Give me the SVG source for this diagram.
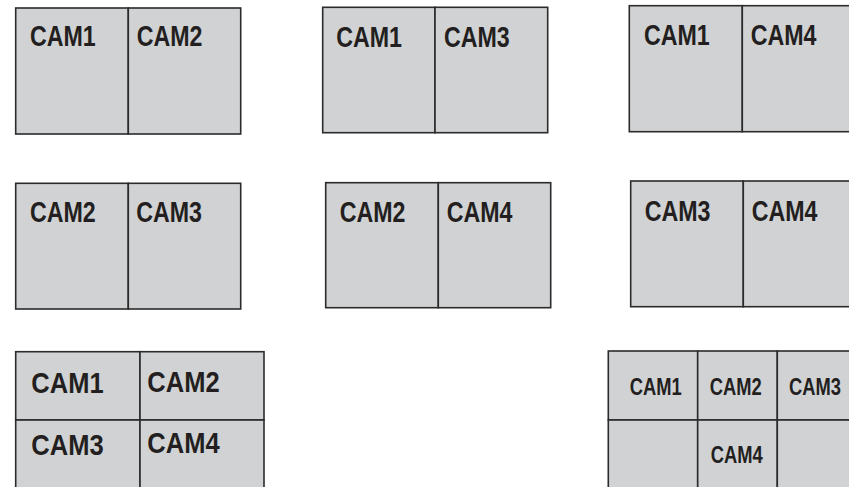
<svg xmlns="http://www.w3.org/2000/svg" width="849" height="487" viewBox="0 0 849 487">
<style>
.cell{fill:#d1d2d4;stroke:#2b2b2b;stroke-width:1.6}
.t{font-family:"Liberation Sans",Arial,sans-serif;font-weight:bold;font-size:29px;fill:#231f20}
.s{font-family:"Liberation Sans",Arial,sans-serif;font-weight:bold;font-size:23.5px;fill:#231f20}
</style>
<rect width="849" height="487" fill="#ffffff"/>
<g id="p1">
<rect class="cell" x="15.7" y="8" width="112.6" height="126"/>
<rect class="cell" x="128.3" y="8" width="112.4" height="126"/>
<text class="t" transform="translate(30,46) scale(0.8,1)">CAM1</text>
<text class="t" transform="translate(136.7,46) scale(0.8,1)">CAM2</text>
</g>
<g id="p2">
<rect class="cell" x="322.7" y="7.3" width="112.3" height="125.4"/>
<rect class="cell" x="435" y="7.3" width="112.7" height="125.4"/>
<text class="t" transform="translate(336.3,46.5) scale(0.8,1)">CAM1</text>
<text class="t" transform="translate(444,46.5) scale(0.8,1)">CAM3</text>
</g>
<g id="p3">
<rect class="cell" x="629.3" y="5.7" width="113" height="126"/>
<rect class="cell" x="742.3" y="5.7" width="113" height="126"/>
<text class="t" transform="translate(644,45) scale(0.8,1)">CAM1</text>
<text class="t" transform="translate(750.7,45) scale(0.8,1)">CAM4</text>
</g>
<g id="p4">
<rect class="cell" x="15.7" y="183.3" width="112.6" height="125.7"/>
<rect class="cell" x="128.3" y="183.3" width="112.4" height="125.7"/>
<text class="t" transform="translate(30,222.3) scale(0.8,1)">CAM2</text>
<text class="t" transform="translate(136.3,222.3) scale(0.8,1)">CAM3</text>
</g>
<g id="p5">
<rect class="cell" x="325.7" y="182.7" width="112.6" height="125"/>
<rect class="cell" x="438.3" y="182.7" width="112.4" height="125"/>
<text class="t" transform="translate(339.7,222.3) scale(0.8,1)">CAM2</text>
<text class="t" transform="translate(446.7,222.3) scale(0.8,1)">CAM4</text>
</g>
<g id="p6">
<rect class="cell" x="630.7" y="181" width="112.6" height="125.7"/>
<rect class="cell" x="743.3" y="181" width="113" height="125.7"/>
<text class="t" transform="translate(644.7,220.7) scale(0.8,1)">CAM3</text>
<text class="t" transform="translate(751.7,220.7) scale(0.8,1)">CAM4</text>
</g>
<g id="p7">
<rect class="cell" x="15.7" y="351.7" width="124.3" height="68.3"/>
<rect class="cell" x="140" y="351.7" width="124" height="68.3"/>
<rect class="cell" x="15.7" y="420" width="124.3" height="70"/>
<rect class="cell" x="140" y="420" width="124" height="70"/>
<text class="t" transform="translate(31.3,393.3) scale(0.88,1)">CAM1</text>
<text class="t" transform="translate(147.3,392.3) scale(0.88,1)">CAM2</text>
<text class="t" transform="translate(31.3,455) scale(0.88,1)">CAM3</text>
<text class="t" transform="translate(147.3,453.3) scale(0.88,1)">CAM4</text>
</g>
<g id="p8">
<rect class="cell" x="608.3" y="351" width="89.4" height="69"/>
<rect class="cell" x="697.7" y="351" width="79.6" height="69"/>
<rect class="cell" x="777.3" y="351" width="80" height="69"/>
<rect class="cell" x="608.3" y="420" width="89.4" height="70"/>
<rect class="cell" x="697.7" y="420" width="79.6" height="70"/>
<rect class="cell" x="777.3" y="420" width="80" height="70"/>
<text class="s" transform="translate(629.8,395) scale(0.78,1)">CAM1</text>
<text class="s" transform="translate(709.8,395) scale(0.78,1)">CAM2</text>
<text class="s" transform="translate(789.1,395) scale(0.78,1)">CAM3</text>
<text class="s" transform="translate(710.8,463.3) scale(0.78,1)">CAM4</text>
</g>
<g id="connectors"/>
</svg>
